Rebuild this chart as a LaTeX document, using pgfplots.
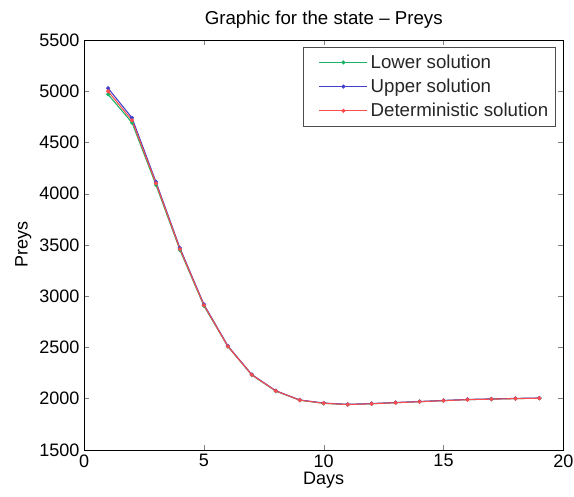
\documentclass[border=0pt]{standalone}
\usepackage{fontspec}
\setmainfont{Liberation Sans}
\usepackage{pgfplots}
\pgfplotsset{compat=1.18}
\definecolor{lowc}{rgb}{0.1,0.7,0.4}
\definecolor{uppc}{rgb}{0.25,0.25,0.8}
\definecolor{detc}{rgb}{1,0.3,0.3}
\begin{document}
\begin{tikzpicture}
\begin{axis}[
  scale only axis,
  width=359pt, height=307pt,
  xmin=0, xmax=20, ymin=1500, ymax=5500,
  xtick={0,5,...,20}, ytick={1500,2000,...,5500},
  tick align=inside, tick pos=both,
  major tick length=4pt,
  /pgf/number format/1000 sep={},
  /pgf/number format/assume math mode=true,
  tick label style={font=\fontsize{13.5}{15}\selectfont},
  label style={font=\fontsize{13.5}{15}\selectfont},
  title style={font=\fontsize{14}{16}\selectfont, yshift=-1pt},
  title={Graphic for the state -- Preys},
  xlabel={Days}, ylabel={Preys},
  xlabel style={yshift=3pt},
  ylabel style={yshift=-1pt},
  legend pos=north east,
  legend style={font=\fontsize{14}{15}\selectfont, draw=black!70, fill=white,
    inner xsep=3pt, inner ysep=3.5pt, row sep=2.5pt, text=black!85,
    at={(0.983,0.983)}},
  legend cell align=left,
  legend image code/.code={%
    \path (-9pt,0pt);
    \draw[mark repeat=2, mark phase=2, #1] plot coordinates {(0pt,0pt) (18pt,0pt) (36pt,0pt)};},
  every axis plot/.append style={line width=0.8pt, mark=*, mark size=1.1pt},
]
\addplot[lowc, mark options={fill=lowc}] coordinates {
 (1,4970) (2,4693) (3,4085) (4,3450) (5,2905) (6,2508) (7,2230) (8,2073) (9,1984)
 (10,1954) (11,1942) (12,1950) (13,1960) (14,1970) (15,1980) (16,1990) (17,1995) (18,2000) (19,2004)};
\addlegendentry{Lower solution}
\addplot[uppc, mark options={fill=uppc}] coordinates {
 (1,5030) (2,4740) (3,4115) (4,3470) (5,2920) (6,2515) (7,2235) (8,2077) (9,1987)
 (10,1957) (11,1944) (12,1952) (13,1962) (14,1972) (15,1982) (16,1992) (17,1997) (18,2002) (19,2006)};
\addlegendentry{Upper solution}
\addplot[detc, mark options={fill=detc}] coordinates {
 (1,5000) (2,4716) (3,4101) (4,3460) (5,2912) (6,2510) (7,2232) (8,2075) (9,1985)
 (10,1955) (11,1942) (12,1950) (13,1960) (14,1970) (15,1980) (16,1990) (17,1995) (18,2000) (19,2004)};
\addlegendentry{Deterministic solution}
\end{axis}
\pgfresetboundingbox
\path (current axis.south west) ++(-63pt,-35pt) coordinate (bl);
\path (current axis.north east) ++(8pt,30pt) coordinate (tr);
\path[use as bounding box] (bl) rectangle (tr);
\end{tikzpicture}
\end{document}
